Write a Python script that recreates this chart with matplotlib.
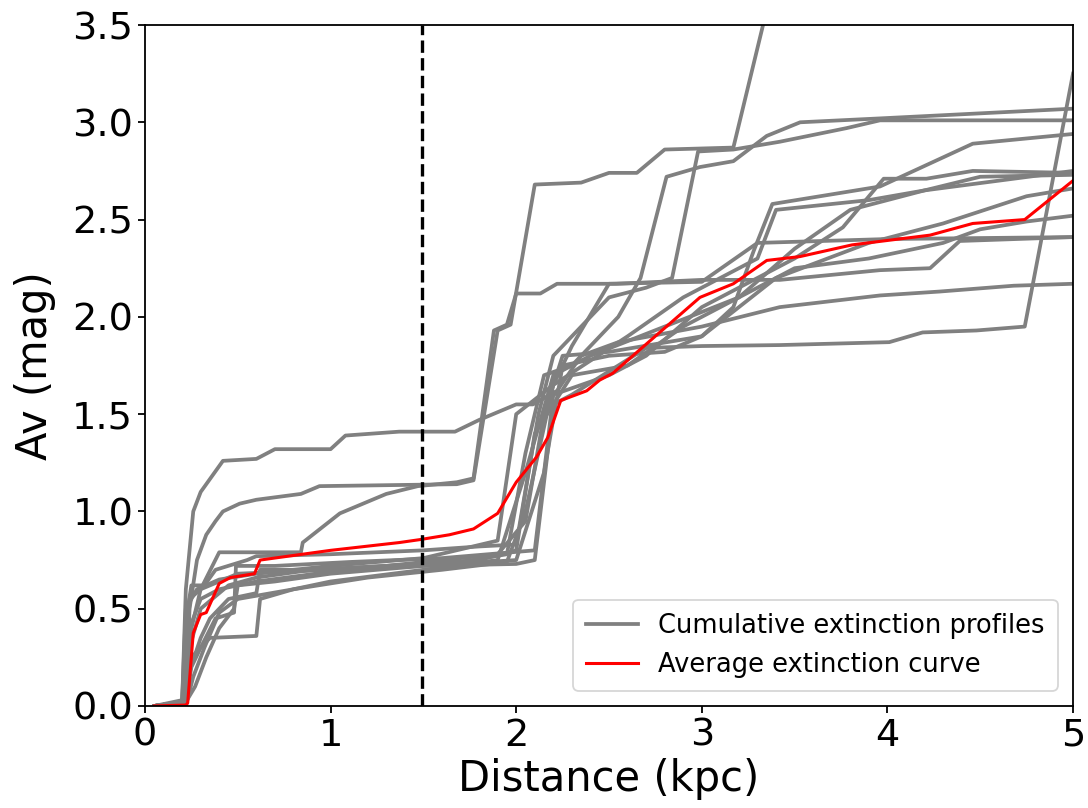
import matplotlib
matplotlib.use("Agg")
import matplotlib.pyplot as plt

# ---------------- data ----------------
avg_x = [0.05, 0.22, 0.23, 0.26, 0.30, 0.33, 0.40, 0.46, 0.59, 0.62, 1.00, 1.37, 1.48,
         1.64, 1.77, 1.90, 2.00, 2.11, 2.17, 2.24, 2.38, 2.45, 2.52, 2.99, 3.17, 3.35,
         3.53, 3.81, 4.23, 4.46, 4.74, 5.00]
avg_y = [0.00, 0.005, 0.015, 0.375, 0.47, 0.48, 0.63, 0.66, 0.68, 0.75, 0.80, 0.84, 0.855,
         0.88, 0.91, 0.99, 1.15, 1.28, 1.38, 1.57, 1.62, 1.675, 1.71, 2.10, 2.17, 2.29,
         2.31, 2.37, 2.42, 2.48, 2.50, 2.70]

p1_x = [0.05, 0.2, 0.22, 0.26, 0.3, 0.36, 0.42, 0.6, 0.7, 1.0, 1.08, 1.37, 1.67, 1.8, 2.0,
        2.09, 2.22, 2.35, 2.55, 3.0, 3.42, 3.96, 4.28, 4.68, 5.0]
p1_y = [0.0, 0.02, 0.6, 1.0, 1.1, 1.18, 1.26, 1.27, 1.32, 1.32, 1.39, 1.41, 1.41, 1.47, 1.55,
        1.55, 1.62, 1.8, 1.87, 1.95, 2.05, 2.11, 2.13, 2.16, 2.17]

p2_x = [0.05, 0.22, 0.24, 0.28, 0.33, 0.38, 0.42, 0.51, 0.6, 0.84, 0.94, 1.68, 1.77, 1.9,
        1.97, 2.1, 2.35, 2.5, 2.65, 2.8, 3.17, 3.33]
p2_y = [0.0, 0.02, 0.5, 0.75, 0.88, 0.95, 1.0, 1.04, 1.06, 1.09, 1.13, 1.14, 1.16, 1.93,
        1.96, 2.68, 2.69, 2.74, 2.74, 2.86, 2.87, 3.5]

p3_x = [0.05, 0.22, 0.25, 0.3, 0.4, 0.84, 0.85, 1.05, 1.3, 1.47, 1.68, 1.77, 1.88, 1.95,
        2.0, 2.13, 2.22, 2.54, 3.0, 3.42, 3.96, 4.23, 4.39, 5.0]
p3_y = [0.0, 0.02, 0.4, 0.6, 0.79, 0.79, 0.84, 0.99, 1.09, 1.13, 1.15, 1.17, 1.93, 1.96,
        2.12, 2.12, 2.17, 2.17, 2.19, 2.19, 2.24, 2.25, 2.39, 2.41]

p4_x = [0.05, 0.2, 0.23, 0.3, 0.35, 0.45, 0.6, 0.62, 0.9, 1.3, 1.7, 1.95, 2.05, 2.15, 2.3,
        2.55, 2.67, 2.81, 2.99, 3.17, 3.35, 3.53, 3.96, 5.0]
p4_y = [0.0, 0.02, 0.15, 0.35, 0.45, 0.55, 0.58, 0.7, 0.7, 0.72, 0.74, 0.78, 1.3, 1.7, 1.75,
        2.0, 2.2, 2.72, 2.77, 2.8, 2.93, 3.0, 3.02, 3.07]

p5_x = [0.05, 0.2, 0.23, 0.25, 0.32, 0.38, 0.55, 0.6, 1.0, 1.5, 1.8, 2.0, 2.12, 2.2, 2.5,
        2.7, 2.84, 2.98, 3.17, 3.42, 3.78, 3.96, 5.0]
p5_y = [0.0, 0.03, 0.5, 0.62, 0.62, 0.7, 0.75, 0.77, 0.78, 0.8, 0.82, 0.83, 1.5, 1.8, 2.1,
        2.15, 2.2, 2.85, 2.86, 2.9, 2.97, 3.01, 3.01]

p6_x = [0.05, 0.22, 0.27, 0.33, 0.4, 0.48, 0.5, 0.7, 1.0, 1.5, 2.0, 2.15, 2.25, 2.5, 2.8,
        3.0, 3.17, 3.28, 3.38, 3.96, 4.46, 5.0]
p6_y = [0.0, 0.02, 0.1, 0.25, 0.4, 0.5, 0.62, 0.64, 0.68, 0.72, 0.75, 1.2, 1.75, 1.8, 1.82,
        1.9, 2.05, 2.34, 2.58, 2.67, 2.89, 2.94]

p7_x = [0.05, 0.22, 0.25, 0.3, 0.38, 0.48, 0.49, 0.7, 1.1, 1.6, 2.1, 2.2, 2.5, 2.7, 3.0,
        3.3, 3.5, 3.76, 3.98, 4.21, 4.46, 5.0]
p7_y = [0.0, 0.02, 0.2, 0.3, 0.45, 0.48, 0.72, 0.72, 0.74, 0.76, 0.8, 1.6, 1.7, 1.8, 2.05,
        2.2, 2.3, 2.46, 2.71, 2.71, 2.75, 2.74]

p8_x = [0.05, 0.22, 0.26, 0.32, 0.4, 0.5, 0.8, 1.2, 1.6, 1.95, 2.05, 2.2, 2.6, 2.9, 3.3,
        3.4, 3.9, 4.2, 4.5, 5.0]
p8_y = [0.0, 0.0, 0.15, 0.3, 0.48, 0.55, 0.6, 0.66, 0.7, 0.74, 1.0, 1.65, 1.9, 2.1, 2.3,
        2.55, 2.6, 2.65, 2.72, 2.73]

p9_x = [0.05, 0.22, 0.24, 0.3, 0.4, 0.6, 1.0, 1.5, 1.9, 2.05, 2.15, 2.25, 2.5, 3.0, 3.4,
        3.9, 4.3, 4.75, 5.0]
p9_y = [0.0, 0.02, 0.4, 0.55, 0.6, 0.64, 0.69, 0.74, 0.78, 0.95, 1.5, 1.8, 1.82, 1.9, 2.2,
        2.38, 2.48, 2.62, 2.66]

p10_x = [0.05, 0.22, 0.25, 0.35, 0.6, 0.62, 0.8, 1.0, 1.5, 1.9, 2.05, 2.2, 2.4, 3.2, 3.5,
         3.9, 4.3, 4.5, 4.75, 5.0]
p10_y = [0.0, 0.02, 0.25, 0.35, 0.36, 0.55, 0.6, 0.64, 0.7, 0.75, 1.2, 1.7, 1.8, 2.1, 2.25,
         2.3, 2.38, 2.45, 2.49, 2.52]

p11_x = [0.05, 0.22, 0.24, 0.3, 0.5, 1.0, 1.5, 2.0, 2.1, 2.2, 2.3, 2.55, 2.7, 3.0, 3.42,
         4.01, 4.19, 4.48, 4.74, 5.0]
p11_y = [0.0, 0.02, 0.55, 0.6, 0.68, 0.7, 0.72, 0.73, 0.75, 1.55, 1.6, 1.75, 1.84, 1.85,
         1.855, 1.87, 1.92, 1.93, 1.95, 3.25]

p12_x = [0.05, 0.2, 0.22, 0.28, 0.4, 0.6, 1.0, 1.5, 1.9, 2.0, 2.2, 2.3, 2.5, 3.0, 3.3,
         4.0, 5.0]
p12_y = [0.0, 0.02, 0.5, 0.6, 0.65, 0.68, 0.72, 0.76, 0.85, 1.5, 1.65, 1.85, 2.17, 2.18,
         2.38, 2.4, 2.41]

p13_x = [0.05, 0.22, 0.24, 0.3, 0.45, 0.6, 0.9, 1.3, 1.8, 2.0, 2.1, 2.3, 2.6, 2.9, 3.2,
         3.5, 3.8, 4.2, 4.6, 5.0]
p13_y = [0.0, 0.02, 0.3, 0.5, 0.62, 0.66, 0.7, 0.72, 0.75, 0.8, 1.4, 1.7, 1.75, 1.95, 2.1,
         2.35, 2.55, 2.65, 2.7, 2.75]

profiles_x = [p1_x, p2_x, p3_x, p4_x, p5_x, p6_x, p7_x, p8_x, p9_x, p10_x, p11_x, p12_x, p13_x]
profiles_y = [p1_y, p2_y, p3_y, p4_y, p5_y, p6_y, p7_y, p8_y, p9_y, p10_y, p11_y, p12_y, p13_y]

cut_distance = 1.49
x_ticks = [0, 1, 2, 3, 4, 5]
y_ticks = [0.0, 0.5, 1.0, 1.5, 2.0, 2.5, 3.0, 3.5]

# ---------------- figure ----------------
fig = plt.figure(figsize=(10.88, 8.08), dpi=100)
ax = fig.add_axes([145 / 1088, 1 - 706 / 808, (1073 - 145) / 1088, (706 - 25) / 808])

for i, (xs, ys) in enumerate(zip(profiles_x, profiles_y)):
    ax.plot(xs, ys, color="gray", lw=2.7,
            label="Cumulative extinction profiles" if i == 0 else None)

ax.plot(avg_x, avg_y, color="red", lw=2.2, label="Average extinction curve")
ax.axvline(cut_distance, color="black", ls="--", lw=2.4)

ax.set_xlim(0, 5)
ax.set_ylim(0, 3.5)
ax.set_xticks(x_ticks)
ax.set_yticks(y_ticks)
ax.set_yticklabels([f"{v:.1f}" for v in y_ticks])
ax.tick_params(labelsize=27.5, length=5, width=1.3)
for sp in ax.spines.values():
    sp.set_linewidth(1.3)
ax.set_xlabel("Distance (kpc)", fontsize=30, labelpad=3)
ax.set_ylabel("Av (mag)", fontsize=30, labelpad=12)

leg = ax.legend(loc="lower right", fontsize=18.5, handlelength=2.0, borderpad=0.5,
                borderaxespad=0.6)
leg.get_frame().set_linewidth(1.3)

fig.savefig("out.png", dpi=100)
